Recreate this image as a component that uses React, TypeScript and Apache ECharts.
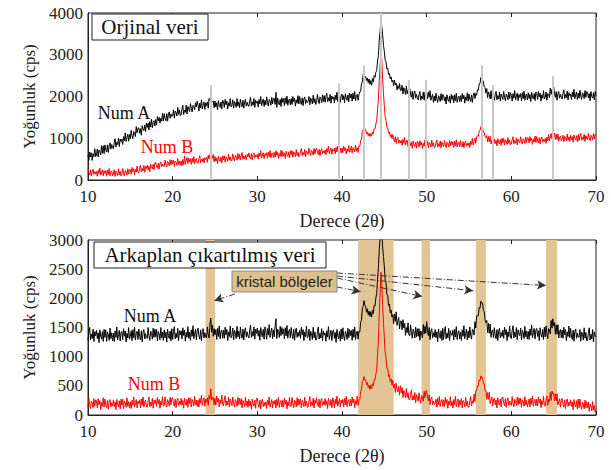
import React, { useEffect, useRef } from "react";
import * as echarts from "echarts";

// Sampling grid: 2θ from 10 to 70 in 0.1° steps (one row = 1°)
const X_START = 10;
const X_STEP = 0.1;

// Top panel (original data)
const topNumA = [
  600, 470, 670, 550, 650, 470, 630, 560, 750, 560,
  600, 740, 550, 720, 690, 600, 820, 640, 820, 630,
  840, 720, 670, 840, 660, 830, 890, 740, 850, 780,
  750, 900, 990, 790, 900, 850, 1000, 800, 980, 920,
  980, 850, 1040, 940, 1130, 920, 1020, 1100, 930, 1090,
  990, 1190, 1060, 990, 1160, 1130, 1040, 1280, 1130, 1240,
  1250, 1120, 1230, 1070, 1300, 1220, 1180, 1320, 1160, 1360,
  1260, 1360, 1200, 1400, 1270, 1460, 1250, 1380, 1420, 1290,
  1450, 1320, 1520, 1420, 1500, 1360, 1480, 1410, 1600, 1410,
  1590, 1470, 1420, 1590, 1410, 1580, 1630, 1480, 1580, 1520,
  1540, 1680, 1480, 1650, 1620, 1530, 1740, 1570, 1680, 1540,
  1560, 1710, 1790, 1570, 1670, 1620, 1790, 1580, 1760, 1700,
  1640, 1830, 1720, 1630, 1790, 1760, 1680, 1850, 1750, 1890,
  1790, 1650, 1840, 1730, 1920, 1700, 1790, 1870, 1690, 1850,
  1780, 1870, 1720, 1950, 1900, 2060, 1900, 1880, 1890, 1730,
  1890, 1750, 1850, 1680, 1900, 1790, 1740, 1870, 1700, 1910,
  1880, 1740, 1930, 1800, 1890, 1700, 1850, 1770, 1950, 1750,
  1790, 1920, 1720, 1880, 1840, 1740, 1950, 1770, 1870, 1730,
  1940, 1810, 1750, 1910, 1720, 1880, 1930, 1770, 1860, 1790,
  1760, 1900, 1980, 1770, 1870, 1790, 1950, 1740, 1910, 1840,
  1890, 1750, 1930, 1820, 2000, 1780, 1870, 1940, 1760, 1910,
  1800, 1990, 1850, 1770, 1930, 1890, 1790, 1980, 1820, 1960,
  1950, 1810, 2100, 1740, 1960, 1850, 1800, 1930, 1760, 1970,
  1860, 1950, 1780, 1970, 1830, 2010, 1790, 1910, 1940, 1800,
  1950, 1810, 2000, 1870, 1960, 1770, 1920, 1840, 2020, 1820,
  2000, 1870, 1810, 1970, 1780, 1940, 1990, 1830, 1920, 1850,
  1880, 2000, 1800, 1960, 1920, 1820, 2030, 1850, 1950, 1810,
  1860, 2050, 1910, 1830, 1990, 1950, 1850, 2040, 1880, 2020,
  1860, 2000, 2080, 1870, 1970, 1890, 2050, 1840, 2010, 1940,
  1990, 1850, 2030, 1920, 2100, 1880, 1970, 2040, 1860, 2010,
  2060, 1920, 2020, 1850, 2070, 1960, 1910, 2040, 1870, 2080,
  1970, 2060, 1890, 2080, 1940, 2120, 1900, 2020, 2050, 1910,
  2040, 2110, 2120, 2300, 2350, 2530, 2560, 2460, 2470, 2380,
  2440, 2330, 2420, 2290, 2380, 2270, 2430, 2350, 2500, 2460,
  2580, 2620, 2850, 2980, 3350, 3560, 3830, 3680, 3480, 3220,
  3080, 2870, 2830, 2660, 2680, 2530, 2550, 2420, 2470, 2350,
  2390, 2260, 2390, 2280, 2320, 2160, 2260, 2190, 2310, 2140,
  2150, 2270, 2060, 2210, 2160, 2050, 2250, 2060, 2150, 2000,
  2190, 2050, 1980, 2130, 1930, 2080, 2130, 1960, 2050, 1970,
  1920, 2050, 2120, 1910, 2010, 1940, 2110, 1910, 2100, 2050,
  2090, 1940, 2110, 1980, 2140, 1910, 1990, 2050, 1860, 2010,
  1890, 2080, 1940, 1860, 2020, 1980, 1880, 2070, 1910, 2050,
  2030, 1890, 1990, 1820, 2040, 1930, 1880, 2010, 1840, 2050,
  1930, 2020, 1850, 2040, 1900, 2080, 1860, 1980, 2010, 1870,
  2020, 1880, 2070, 1940, 2030, 1840, 1990, 1910, 2090, 1890,
  2060, 1930, 1880, 2040, 1860, 2030, 2090, 1950, 2070, 2030,
  2160, 2150, 2300, 2310, 2460, 2480, 2400, 2360, 2230, 2210,
  2080, 2190, 1970, 2110, 2050, 1940, 2140, 1950, 2040, 1900,
  1910, 2050, 2120, 1920, 2020, 1940, 2100, 1890, 2060, 1990,
  1930, 2120, 1980, 1900, 2060, 2020, 1920, 2110, 1950, 2090,
  2030, 1890, 2070, 1960, 2140, 1920, 2010, 2080, 1900, 2050,
  1980, 2070, 1900, 2090, 1950, 2130, 1910, 2030, 2060, 1920,
  2090, 1950, 2050, 1880, 2100, 1990, 1940, 2070, 1900, 2110,
  2070, 1930, 2120, 1990, 2080, 1890, 2040, 1960, 2140, 1940,
  1980, 2110, 1910, 2070, 2050, 1970, 2200, 2050, 2170, 2040,
  2230, 2070, 1980, 2120, 1910, 2070, 2120, 1960, 2050, 1980,
  1940, 2080, 2160, 1950, 2050, 1970, 2130, 1920, 2090, 2020,
  2060, 1920, 2100, 1990, 2170, 1950, 2040, 2110, 1930, 2080,
  1960, 2150, 2010, 1930, 2090, 2050, 1950, 2140, 1980, 2120,
  2100, 1970, 2070, 1900, 2120, 2000, 1960, 2090, 1920, 2120,
  2020,
];

const topNumB = [
  270, 165, 120, 245, 95, 220, 260, 135, 205, 150,
  205, 90, 235, 150, 290, 115, 190, 245, 100, 220,
  155, 225, 90, 240, 130, 275, 100, 195, 220, 105,
  145, 245, 85, 215, 185, 105, 270, 125, 205, 95,
  125, 275, 165, 100, 230, 195, 115, 270, 140, 250,
  250, 140, 300, 200, 270, 125, 250, 190, 335, 180,
  170, 285, 355, 190, 275, 215, 350, 185, 330, 275,
  355, 245, 330, 200, 380, 300, 265, 375, 240, 415,
  420, 320, 280, 405, 260, 390, 435, 315, 385, 335,
  325, 480, 370, 310, 440, 410, 335, 490, 365, 475,
  380, 480, 325, 455, 430, 350, 515, 375, 455, 350,
  455, 340, 490, 365, 570, 375, 470, 540, 395, 520,
  435, 505, 375, 525, 420, 560, 390, 490, 515, 405,
  400, 510, 580, 410, 495, 440, 520, 405, 535, 490,
  540, 425, 590, 505, 600, 680, 595, 520, 610, 440,
  565, 450, 530, 395, 570, 485, 445, 550, 410, 580,
  480, 580, 425, 555, 530, 450, 615, 475, 555, 450,
  475, 625, 520, 455, 590, 555, 475, 635, 505, 620,
  480, 590, 660, 490, 575, 510, 590, 485, 615, 560,
  650, 545, 505, 630, 485, 610, 650, 530, 600, 550,
  615, 500, 645, 560, 700, 525, 600, 655, 510, 630,
  585, 655, 520, 670, 560, 705, 530, 625, 650, 535,
  660, 545, 700, 595, 665, 515, 635, 570, 715, 555,
  685, 570, 650, 515, 690, 605, 565, 670, 530, 700,
  605, 705, 545, 675, 645, 565, 730, 585, 665, 555,
  580, 690, 755, 585, 665, 600, 730, 560, 700, 640,
  610, 760, 650, 585, 715, 680, 600, 755, 625, 735,
  760, 655, 610, 735, 585, 710, 750, 625, 695, 640,
  720, 605, 750, 665, 805, 630, 705, 760, 615, 735,
  695, 765, 630, 780, 670, 815, 640, 735, 760, 645,
  770, 655, 810, 705, 775, 625, 745, 680, 825, 665,
  710, 810, 650, 780, 750, 670, 835, 690, 770, 660,
  820, 800, 940, 980, 1160, 1200, 1290, 1220, 1200, 1110,
  1150, 1060, 1120, 1040, 1110, 1060, 1150, 1110, 1230, 1230,
  1340, 1430, 1680, 1930, 2380, 2730, 3060, 2880, 2430, 2070,
  1780, 1520, 1430, 1260, 1250, 1120, 1150, 1040, 1090, 990,
  1090, 975, 920, 1035, 875, 990, 1020, 885, 950, 890,
  950, 830, 970, 880, 1015, 835, 905, 955, 805, 920,
  940, 820, 900, 760, 935, 845, 800, 905, 760, 930,
  900, 785, 940, 835, 905, 755, 875, 810, 955, 825,
  830, 930, 770, 900, 870, 790, 955, 810, 890, 780,
  785, 895, 960, 790, 870, 805, 935, 765, 905, 845,
  800, 950, 840, 775, 905, 870, 790, 945, 815, 925,
  845, 915, 780, 930, 820, 965, 790, 885, 910, 795,
  945, 840, 795, 920, 770, 895, 935, 810, 880, 825,
  895, 780, 930, 850, 1000, 835, 925, 1000, 880, 1030,
  1060, 1050, 1170, 1180, 1280, 1260, 1260, 1150, 1140, 1040,
  1015, 1065, 910, 1040, 915, 1050, 865, 955, 975, 855,
  985, 870, 950, 815, 990, 905, 865, 970, 830, 1000,
  895, 995, 835, 965, 935, 855, 1020, 875, 955, 845,
  860, 970, 1035, 865, 945, 880, 1010, 840, 980, 920,
  885, 1035, 925, 860, 990, 955, 875, 1030, 900, 1010,
  1000, 885, 1040, 935, 1005, 855, 975, 910, 1055, 895,
  1040, 935, 890, 1015, 865, 990, 1030, 905, 975, 920,
  995, 880, 1025, 940, 1090, 935, 1030, 1115, 990, 1120,
  1075, 1125, 970, 1100, 970, 1105, 930, 1025, 1050, 935,
  975, 1075, 915, 1045, 1015, 935, 1100, 955, 1035, 925,
  1075, 960, 1040, 905, 1080, 995, 955, 1060, 920, 1090,
  945, 1055, 1120, 950, 1030, 965, 1095, 925, 1065, 1005,
  965, 1115, 1005, 940, 1070, 1035, 955, 1110, 980, 1090,
  1040,
];

// Bottom panel (background subtracted)
const bottomNumA = [
  1280, 1420, 1500, 1290, 1390, 1310, 1470, 1260, 1430, 1360,
  1450, 1310, 1410, 1240, 1460, 1350, 1300, 1430, 1260, 1470,
  1330, 1460, 1260, 1420, 1380, 1280, 1490, 1310, 1410, 1270,
  1400, 1260, 1440, 1330, 1510, 1290, 1380, 1450, 1270, 1420,
  1430, 1290, 1480, 1350, 1440, 1250, 1400, 1320, 1500, 1300,
  1355, 1445, 1275, 1465, 1325, 1505, 1285, 1405, 1435, 1295,
  1475, 1345, 1285, 1445, 1255, 1415, 1465, 1305, 1395, 1325,
  1310, 1500, 1360, 1280, 1440, 1400, 1300, 1490, 1330, 1470,
  1340, 1470, 1270, 1430, 1390, 1290, 1500, 1320, 1420, 1280,
  1460, 1320, 1420, 1250, 1470, 1360, 1310, 1440, 1270, 1480,
  1295, 1435, 1515, 1305, 1405, 1325, 1485, 1275, 1445, 1375,
  1445, 1305, 1495, 1365, 1455, 1265, 1415, 1335, 1515, 1315,
  1420, 1280, 1460, 1350, 1530, 1310, 1400, 1470, 1290, 1440,
  1490, 1360, 1300, 1460, 1270, 1430, 1480, 1320, 1410, 1340,
  1320, 1510, 1380, 1320, 1540, 1660, 1420, 1540, 1350, 1480,
  1375, 1465, 1295, 1485, 1345, 1525, 1305, 1425, 1455, 1315,
  1455, 1315, 1505, 1375, 1465, 1275, 1425, 1345, 1525, 1325,
  1360, 1490, 1290, 1450, 1410, 1310, 1520, 1340, 1440, 1300,
  1505, 1375, 1315, 1475, 1285, 1445, 1495, 1335, 1425, 1355,
  1320, 1460, 1540, 1330, 1430, 1350, 1510, 1300, 1470, 1400,
  1490, 1350, 1450, 1280, 1500, 1390, 1340, 1470, 1300, 1510,
  1440, 1300, 1480, 1370, 1550, 1330, 1420, 1490, 1310, 1460,
  1340, 1530, 1650, 1310, 1470, 1430, 1330, 1520, 1360, 1500,
  1385, 1475, 1305, 1495, 1355, 1535, 1315, 1435, 1465, 1325,
  1500, 1370, 1310, 1470, 1280, 1440, 1490, 1330, 1420, 1350,
  1455, 1315, 1505, 1375, 1465, 1275, 1425, 1345, 1525, 1325,
  1345, 1475, 1275, 1435, 1395, 1295, 1505, 1325, 1425, 1285,
  1290, 1430, 1510, 1300, 1400, 1320, 1480, 1270, 1440, 1370,
  1405, 1265, 1445, 1335, 1515, 1295, 1385, 1455, 1275, 1425,
  1455, 1315, 1415, 1245, 1465, 1355, 1305, 1435, 1265, 1475,
  1305, 1495, 1355, 1275, 1435, 1395, 1295, 1485, 1325, 1465,
  1360, 1450, 1280, 1470, 1330, 1510, 1290, 1410, 1440, 1300,
  1430, 1420, 1590, 1620, 1820, 1860, 1960, 1880, 1860, 1760,
  1820, 1720, 1780, 1690, 1770, 1680, 1790, 1740, 1880, 1870,
  2010, 2080, 2330, 2530, 2830, 3040, 3200, 3120, 2880, 2720,
  2540, 2310, 2260, 2060, 2050, 1880, 1900, 1750, 1800, 1680,
  1720, 1565, 1730, 1605, 1770, 1535, 1610, 1670, 1475, 1610,
  1610, 1460, 1635, 1490, 1570, 1365, 1500, 1410, 1580, 1370,
  1360, 1545, 1400, 1315, 1470, 1425, 1320, 1505, 1340, 1480,
  1350, 1480, 1280, 1440, 1410, 1320, 1550, 1390, 1520, 1400,
  1600, 1450, 1360, 1500, 1290, 1440, 1480, 1320, 1410, 1340,
  1465, 1325, 1425, 1255, 1475, 1365, 1315, 1445, 1275, 1485,
  1295, 1435, 1515, 1305, 1405, 1325, 1485, 1275, 1445, 1375,
  1365, 1455, 1285, 1475, 1335, 1515, 1295, 1415, 1445, 1305,
  1420, 1280, 1460, 1350, 1530, 1310, 1400, 1470, 1290, 1440,
  1320, 1510, 1370, 1300, 1470, 1450, 1370, 1600, 1490, 1700,
  1700, 1700, 1840, 1830, 1950, 1920, 1920, 1790, 1770, 1630,
  1580, 1620, 1410, 1570, 1400, 1560, 1330, 1440, 1460, 1320,
  1495, 1365, 1305, 1465, 1275, 1435, 1485, 1325, 1415, 1345,
  1455, 1315, 1505, 1375, 1465, 1275, 1425, 1345, 1525, 1325,
  1310, 1450, 1530, 1320, 1420, 1340, 1500, 1290, 1460, 1390,
  1360, 1490, 1290, 1450, 1410, 1310, 1520, 1340, 1440, 1300,
  1435, 1295, 1475, 1365, 1545, 1325, 1415, 1485, 1305, 1455,
  1485, 1345, 1445, 1275, 1495, 1385, 1335, 1465, 1295, 1505,
  1340, 1530, 1390, 1310, 1480, 1460, 1390, 1620, 1490, 1650,
  1525, 1585, 1385, 1545, 1385, 1550, 1320, 1435, 1465, 1325,
  1455, 1315, 1505, 1375, 1465, 1275, 1425, 1345, 1525, 1325,
  1485, 1355, 1295, 1455, 1265, 1425, 1475, 1315, 1405, 1335,
  1335, 1465, 1265, 1425, 1385, 1285, 1495, 1315, 1415, 1275,
  1275, 1415, 1495, 1285, 1385, 1305, 1465, 1255, 1425, 1355,
  1340,
];

const bottomNumB = [
  135, 285, 175, 110, 240, 205, 125, 280, 150, 260,
  240, 125, 280, 175, 245, 95, 215, 150, 295, 135,
  275, 170, 125, 250, 100, 225, 265, 140, 210, 155,
  260, 145, 225, 90, 265, 180, 140, 245, 105, 275,
  170, 270, 110, 240, 210, 130, 295, 150, 230, 120,
  225, 110, 255, 170, 310, 135, 210, 265, 120, 240,
  190, 260, 125, 275, 165, 310, 135, 230, 255, 140,
  135, 245, 310, 140, 220, 155, 285, 115, 255, 195,
  260, 145, 300, 195, 265, 115, 235, 170, 315, 155,
  160, 310, 200, 135, 265, 230, 150, 305, 175, 285,
  300, 195, 150, 275, 125, 250, 290, 165, 235, 180,
  285, 170, 250, 115, 290, 205, 165, 270, 130, 300,
  195, 295, 135, 265, 235, 155, 320, 175, 255, 145,
  255, 140, 285, 200, 340, 165, 240, 295, 150, 270,
  220, 290, 165, 335, 275, 450, 255, 300, 300, 175,
  285, 170, 325, 220, 290, 140, 260, 195, 340, 180,
  155, 265, 330, 160, 240, 175, 305, 135, 275, 215,
  160, 310, 200, 135, 265, 230, 150, 305, 175, 285,
  180, 280, 120, 250, 220, 140, 305, 160, 240, 130,
  270, 155, 235, 100, 275, 190, 150, 255, 115, 285,
  280, 175, 130, 255, 105, 230, 270, 145, 215, 160,
  225, 110, 255, 170, 310, 135, 210, 265, 120, 240,
  185, 255, 120, 270, 160, 305, 130, 225, 250, 135,
  250, 135, 290, 185, 255, 105, 225, 160, 305, 145,
  150, 300, 190, 125, 255, 220, 140, 295, 165, 275,
  180, 280, 120, 250, 220, 140, 305, 160, 240, 130,
  140, 250, 315, 145, 225, 160, 290, 120, 260, 200,
  295, 190, 145, 270, 120, 245, 285, 160, 230, 175,
  280, 165, 245, 110, 285, 200, 160, 265, 125, 295,
  240, 125, 270, 185, 325, 150, 225, 280, 135, 255,
  200, 270, 135, 285, 175, 320, 145, 240, 265, 150,
  270, 155, 310, 205, 275, 125, 245, 180, 325, 165,
  260, 260, 400, 430, 580, 590, 660, 600, 600, 520,
  560, 470, 510, 440, 510, 450, 540, 500, 610, 600,
  700, 780, 1030, 1280, 1730, 2080, 2450, 2270, 1880, 1570,
  1330, 1070, 980, 800, 800, 660, 690, 570, 620, 510,
  595, 465, 530, 385, 545, 445, 395, 490, 340, 500,
  380, 470, 300, 420, 380, 295, 455, 305, 380, 265,
  265, 370, 430, 255, 330, 260, 385, 210, 350, 290,
  235, 380, 265, 200, 335, 305, 235, 405, 290, 410,
  420, 305, 240, 345, 175, 280, 310, 175, 240, 180,
  200, 270, 135, 285, 175, 320, 145, 240, 265, 150,
  260, 145, 300, 195, 265, 115, 235, 170, 315, 155,
  235, 120, 265, 180, 320, 145, 220, 275, 130, 250,
  180, 280, 120, 250, 220, 140, 305, 160, 240, 130,
  140, 250, 315, 155, 245, 200, 360, 230, 420, 420,
  500, 500, 600, 590, 670, 630, 640, 540, 540, 420,
  425, 270, 385, 270, 390, 195, 260, 305, 155, 270,
  290, 175, 255, 120, 295, 210, 170, 275, 135, 305,
  305, 200, 155, 280, 130, 255, 295, 170, 240, 185,
  165, 315, 205, 140, 270, 235, 155, 310, 180, 290,
  190, 290, 130, 260, 230, 150, 315, 170, 250, 140,
  205, 275, 140, 290, 180, 325, 150, 245, 270, 155,
  270, 155, 310, 205, 275, 125, 245, 180, 325, 165,
  150, 260, 325, 165, 265, 230, 390, 250, 410, 360,
  380, 245, 360, 245, 365, 170, 235, 280, 135, 255,
  285, 180, 135, 260, 110, 235, 275, 150, 220, 165,
  260, 145, 225, 90, 265, 180, 140, 245, 105, 275,
  125, 275, 160, 95, 220, 185, 105, 255, 125, 230,
  125, 220, 60, 185, 155, 70, 230, 85, 160, 50,
  110,
];

// Peak reference lines (top panel)
const peakPositions = [24.5, 39.6, 42.6, 44.6, 47.9, 49.9, 56.5, 57.8, 64.9];
const peakNames = ["Fe₂B", "FeB", "Fe₂B", "Fe", "FeB", "Fe₂B", "Fe₂B", "FeB", "Fe"];
const peakLineTops = [2275, 2320, 2750, 4000, 2400, 2400, 2750, 2275, 2490];
const peakLabelX = [24.5, 39.2, 42.1, 46.2, 47.5, 50.6, 56.5, 58.8, 64.8];
const peakLabelY = [2395, 2420, 2900, 3760, 2515, 2560, 2920, 2395, 2635];

// Crystalline regions (bottom panel)
const bandStarts = [23.9, 41.9, 49.4, 55.8, 64.1];
const bandEnds = [25.0, 46.1, 50.4, 57.0, 65.4];
// Arrows from the "kristal bölgeler" box to the regions
const arrowFrom = [[27.35, 2074], [39.4, 2194], [39.4, 2349], [39.4, 2383], [39.4, 2434]];
const arrowTo = [[24.9, 1960], [42.2, 2115], [49.5, 2030], [55.5, 2130], [64.1, 2220]];

const SERIF = "Liberation Serif";
const SANS = "Liberation Sans";

const toXY = (vals: number[]) =>
  vals.map((v, i) => [Math.round((X_START + i * X_STEP) * 10) / 10, v]);

function App() {
  const ref = useRef<HTMLDivElement>(null);
  useEffect(() => {
    if (!ref.current) return;
    const chart = echarts.init(ref.current, undefined, { renderer: "svg" });

    const xBottomAxis = (gridIndex: number) => ({
      type: "value",
      gridIndex,
      min: 10,
      max: 70,
      interval: 10,
      name: "Derece (2θ)",
      nameLocation: "middle",
      nameGap: 32,
      nameTextStyle: { fontSize: 18, color: "#222", fontFamily: SERIF },
      axisLine: { show: true, lineStyle: { color: "#222", width: 1 } },
      axisTick: { show: true, inside: true, length: 4, lineStyle: { color: "#222" } },
      axisLabel: { fontSize: 17, lineHeight: 16, color: "#222", margin: 8, fontFamily: SERIF, formatter: (v: number) => String(v) },
      splitLine: { show: false },
    });
    const xTopAxis = (gridIndex: number) => ({
      type: "value",
      gridIndex,
      position: "top",
      min: 10,
      max: 70,
      interval: 10,
      axisLine: { show: false },
      axisTick: { show: true, inside: true, length: 4, lineStyle: { color: "#222" } },
      axisLabel: { show: false },
      splitLine: { show: false },
    });
    const yAxis = (gridIndex: number, max: number, interval: number) => ({
      type: "value",
      gridIndex,
      min: 0,
      max,
      interval,
      name: "Yoğunluk (cps)",
      nameLocation: "middle",
      nameGap: 50,
      nameTextStyle: { fontSize: 17, color: "#222", fontFamily: SERIF },
      axisLine: { show: true, lineStyle: { color: "#222", width: 1 } },
      axisTick: { show: false },
      axisLabel: { fontSize: 17, lineHeight: 16, color: "#222", margin: 5, fontFamily: SERIF, formatter: (v: number) => String(v) },
      splitLine: { show: false },
    });

    const lineSeries = (name: string, data: number[], color: string, xi: number, yi: number, z: number) => ({
      name,
      type: "line",
      xAxisIndex: xi,
      yAxisIndex: yi,
      data: toXY(data),
      showSymbol: false,
      symbol: "none",
      clip: true,
      z,
      lineStyle: { color, width: 1 },
      itemStyle: { color },
      silent: true,
    });

    const peakLabelItems = peakNames.map((n, i) => {
      const bold = n === "FeB";
      const italic = n === "Fe";
      return {
        value: [peakLabelX[i], peakLabelY[i]],
        label: {
          show: true,
          position: "inside",
          formatter: n,
          fontSize: 13,
          fontWeight: bold ? "bold" : "normal",
          fontStyle: italic ? "italic" : "normal",
          color: bold ? "#111" : "#555",
          fontFamily: SERIF,
        },
      };
    });

    const txt = (text: string, x: number, y: number, size: number, fill: string, family = SERIF) => ({
      type: "text",
      z: 100,
      x,
      y,
      style: { text, fontSize: size, fontFamily: family, fill, align: "center", verticalAlign: "middle" },
    });
    const box = (x: number, y: number, w: number, h: number, fill: string, stroke: string) => ({
      type: "rect",
      z: 99,
      shape: { x, y, width: w, height: h },
      style: { fill, stroke, lineWidth: 1 },
    });

    const option = {
      animation: false,
      backgroundColor: "#fff",
      textStyle: { fontFamily: SERIF },
      grid: [
        { left: 88, top: 13, width: 508, height: 167, show: true, borderColor: "#222", borderWidth: 1, backgroundColor: "transparent" },
        { left: 88, top: 240, width: 508, height: 175, show: true, borderColor: "#222", borderWidth: 1, backgroundColor: "transparent" },
      ],
      xAxis: [xBottomAxis(0), xTopAxis(0), xBottomAxis(1), xTopAxis(1)],
      yAxis: [yAxis(0, 4000, 1000), yAxis(1, 3000, 500)],
      series: [
        {
          name: "peakLines",
          type: "line",
          xAxisIndex: 0,
          yAxisIndex: 0,
          data: [[10, 0], [70, 0]],
          symbol: "none",
          lineStyle: { opacity: 0 },
          silent: true,
          z: 1,
          markLine: {
            silent: true,
            symbol: ["none", "none"],
            label: { show: false },
            lineStyle: { color: "#c8c8c8", width: 2, type: "solid" },
            data: peakPositions.map((x, i) => [{ coord: [x, 0] }, { coord: [x, peakLineTops[i]] }]),
          },
        },
        lineSeries("Num A", topNumA, "#000000", 0, 0, 3),
        lineSeries("Num B", topNumB, "#ff0000", 0, 0, 4),
        {
          name: "peakLabels",
          type: "scatter",
          xAxisIndex: 0,
          yAxisIndex: 0,
          symbolSize: 1,
          itemStyle: { opacity: 0 },
          silent: true,
          z: 6,
          data: peakLabelItems,
        },
        {
          name: "bands",
          type: "line",
          xAxisIndex: 2,
          yAxisIndex: 1,
          data: [[10, 0], [70, 0]],
          symbol: "none",
          lineStyle: { opacity: 0 },
          silent: true,
          z: 1,
          markArea: {
            silent: true,
            itemStyle: { color: "#e3c494", opacity: 1 },
            data: bandStarts.map((s, i) => [{ xAxis: s }, { xAxis: bandEnds[i] }]),
          },
        },
        lineSeries("Num A (arkaplan)", bottomNumA, "#000000", 2, 1, 3),
        lineSeries("Num B (arkaplan)", bottomNumB, "#ff0000", 2, 1, 4),
        {
          name: "arrows",
          type: "line",
          xAxisIndex: 2,
          yAxisIndex: 1,
          data: [[10, 0], [70, 0]],
          symbol: "none",
          lineStyle: { opacity: 0 },
          silent: true,
          z: 7,
          markLine: {
            silent: true,
            symbol: ["none", "arrow"],
            symbolSize: [7, 9],
            label: { show: false },
            lineStyle: { color: "#333", width: 1, type: [6, 2, 1, 2] },
            data: arrowFrom.map((f, i) => [{ coord: f }, { coord: arrowTo[i] }]),
          },
        },
      ],
      graphic: [
        box(92, 14, 116, 26, "#fff", "#222"),
        txt("Orjinal veri", 150, 27, 21, "#111"),
        txt("Num A", 124, 113, 18, "#111"),
        txt("Num B", 167, 147, 18, "#ff0000"),
        box(94, 242, 232, 26, "#fff", "#222"),
        txt("Arkaplan çıkartılmış veri", 210, 255, 21, "#111"),
        box(232, 271, 105, 21, "#dfbf8e", "#8a8a8a"),
        txt("kristal bölgeler", 284.5, 281.5, 15, "#222", SANS),
        txt("Num A", 150, 316, 18, "#111"),
        txt("Num B", 154, 384, 18, "#ff0000"),
      ],
    };

    chart.setOption(option as any);
    return () => chart.dispose();
  }, []);

  return <div ref={ref} style={{ width: 611, height: 470, position: "absolute", left: 0, top: 0 }} />;
}

export default App;
